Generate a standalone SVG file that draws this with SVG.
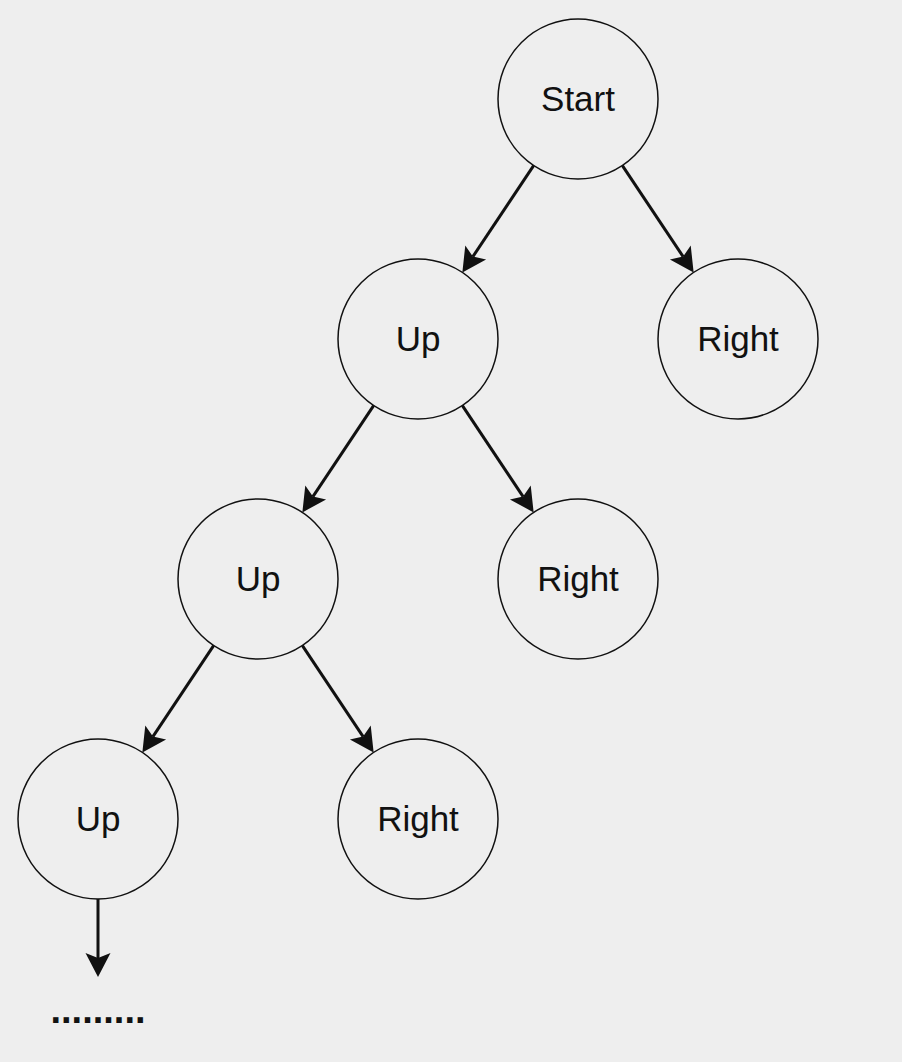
<svg xmlns="http://www.w3.org/2000/svg" width="902" height="1062" viewBox="0 0 902 1062">
<style>
.n circle{fill:#eeeeee;stroke:#111111;stroke-width:1.5}
.n text{font-family:"Liberation Sans",Arial,sans-serif;font-size:35px;fill:#111111;text-anchor:middle}
.e line{stroke:#111111;stroke-width:3}
</style>
<defs>
<marker id="ah" markerUnits="userSpaceOnUse" markerWidth="40" markerHeight="40" refX="0" refY="0" orient="auto" overflow="visible" viewBox="-10 -20 40 40">
<path d="M19,0 L-5,-12.5 L0,0 L-5,12.5 Z" fill="#111111"/>
</marker>
</defs>
<rect width="902" height="1062" fill="#eeeeee"/>
<g id="connectors" class="e">
<line x1="533.6" y1="165.6" x2="472.9" y2="256.6" marker-end="url(#ah)"/>
<line x1="622.4" y1="165.6" x2="683.1" y2="256.6" marker-end="url(#ah)"/>
<line x1="373.6" y1="405.6" x2="312.9" y2="496.6" marker-end="url(#ah)"/>
<line x1="462.4" y1="405.6" x2="523.1" y2="496.6" marker-end="url(#ah)"/>
<line x1="213.6" y1="645.6" x2="152.9" y2="736.6" marker-end="url(#ah)"/>
<line x1="302.4" y1="645.6" x2="363.1" y2="736.6" marker-end="url(#ah)"/>
<line x1="98" y1="899" x2="98" y2="958" marker-end="url(#ah)"/>
</g>
<g id="start" class="n"><circle cx="578" cy="99" r="80"/><text x="578" y="111">Start</text></g>
<g id="up1" class="n"><circle cx="418" cy="339" r="80"/><text x="418" y="351">Up</text></g>
<g id="right1" class="n"><circle cx="738" cy="339" r="80"/><text x="738" y="351">Right</text></g>
<g id="up2" class="n"><circle cx="258" cy="579" r="80"/><text x="258" y="591">Up</text></g>
<g id="right2" class="n"><circle cx="578" cy="579" r="80"/><text x="578" y="591">Right</text></g>
<g id="up3" class="n"><circle cx="98" cy="819" r="80"/><text x="98" y="831">Up</text></g>
<g id="right3" class="n"><circle cx="418" cy="819" r="80"/><text x="418" y="831">Right</text></g>
<g id="dots" class="n"><text x="98" y="1023" style="font-size:38px;font-weight:bold">.........</text></g>
</svg>
